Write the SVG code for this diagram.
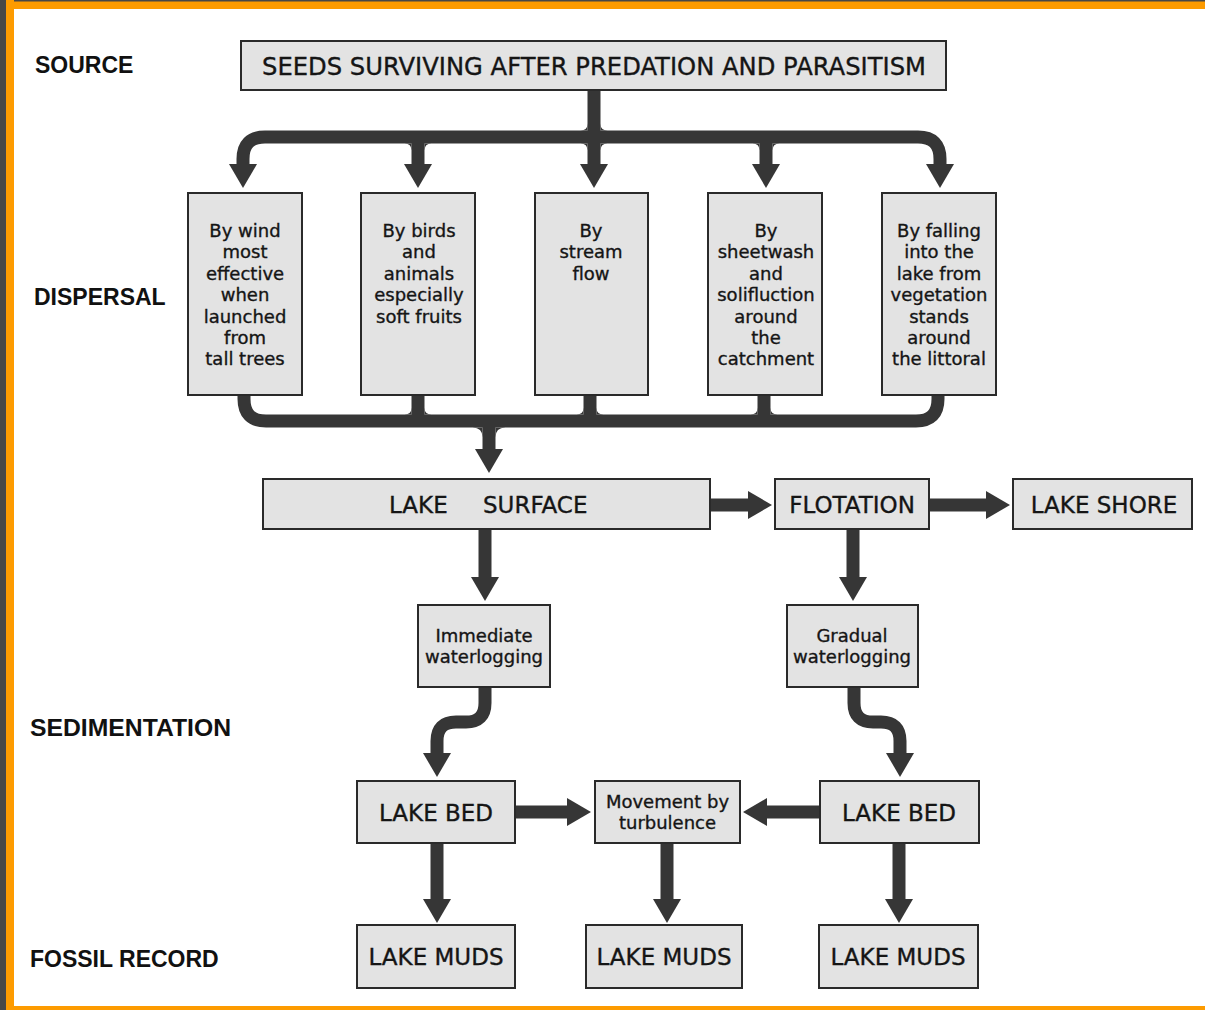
<svg xmlns="http://www.w3.org/2000/svg" width="1205" height="1010" viewBox="0 0 1205 1010">
<defs>
<style>
.box{fill:#e3e3e3;stroke:#2a2a2a;stroke-width:2}
.t{font-family:"DejaVu Sans","Liberation Sans",sans-serif;fill:#151515;stroke:#151515;stroke-width:0.35;text-anchor:middle}
.s{font-size:18px}
.b{font-size:23px}
.lab{font-family:"Liberation Sans",Arial,sans-serif;font-weight:bold;font-size:23px;fill:#111}
.c{fill:none;stroke:#363636;stroke-width:13;marker-end:url(#ah)}
.cn{fill:none;stroke:#363636;stroke-width:13}
.f{fill:#363636}
</style>
<marker id="ah" markerUnits="userSpaceOnUse" markerWidth="24" markerHeight="28" viewBox="0 0 24 28" refX="1" refY="14" orient="auto">
<path d="M0,0 L24,14 L0,28 Z" fill="#363636"/>
</marker>
</defs>
<rect width="1205" height="1010" fill="#ffffff"/>
<g id="frame">
<rect x="0" y="0" width="1205" height="9" fill="#fd9b00"/>
<rect x="0" y="0" width="1205" height="1.5" fill="#474747"/>
<rect x="0" y="1006" width="1205" height="4" fill="#fd9b00"/>
<rect x="6" y="0" width="8" height="1010" fill="#fd9b00"/>
<rect x="0" y="0" width="6" height="1010" fill="#474747"/>
</g>
<g id="stage-labels">
<text class="lab" x="35" y="73">SOURCE</text>
<text class="lab" x="34" y="305">DISPERSAL</text>
<text class="lab" x="30" y="736" textLength="201" lengthAdjust="spacingAndGlyphs">SEDIMENTATION</text>
<text class="lab" x="30" y="967" font-size="22.4">FOSSIL RECORD</text>
</g>
<g id="connectors">
<path class="c" d="M594 137 H265 Q243 137 243 159 V165"/>
<path class="c" d="M594 137 H918 Q940 137 940 159 V165"/>
<path class="c" d="M594 90 V165"/>
<path class="c" d="M418 137 V165"/>
<path class="c" d="M766 137 V165"/>
<path class="f" d="M587.5 123.5 Q587.5 130.5 580.5 130.5 L587.5 130.5 Z M600.5 123.5 Q600.5 130.5 607.5 130.5 L600.5 130.5 Z"/>
<path class="f" d="M411.5 150.5 Q411.5 143.5 404.5 143.5 L411.5 143.5 Z M424.5 150.5 Q424.5 143.5 431.5 143.5 L424.5 143.5 Z M587.5 150.5 Q587.5 143.5 580.5 143.5 L587.5 143.5 Z M600.5 150.5 Q600.5 143.5 607.5 143.5 L600.5 143.5 Z M759.5 150.5 Q759.5 143.5 752.5 143.5 L759.5 143.5 Z M772.5 150.5 Q772.5 143.5 779.5 143.5 L772.5 143.5 Z"/>
<path class="cn" d="M244 395 V399 Q244 421 266 421 H489"/>
<path class="cn" d="M938 395 V399 Q938 421 916 421 H489"/>
<path class="cn" d="M418 395 V421"/>
<path class="cn" d="M590 395 V421"/>
<path class="cn" d="M764 395 V421"/>
<path class="c" d="M489 421 V450"/>
<path class="f" d="M411.5 407.5 Q411.5 414.5 404.5 414.5 L411.5 414.5 Z M424.5 407.5 Q424.5 414.5 431.5 414.5 L424.5 414.5 Z M583.5 407.5 Q583.5 414.5 576.5 414.5 L583.5 414.5 Z M596.5 407.5 Q596.5 414.5 603.5 414.5 L596.5 414.5 Z M757.5 407.5 Q757.5 414.5 750.5 414.5 L757.5 414.5 Z M770.5 407.5 Q770.5 414.5 777.5 414.5 L770.5 414.5 Z"/>
<path class="f" d="M482.5 437.5 Q482.5 427.5 472.5 427.5 L482.5 427.5 Z M495.5 437.5 Q495.5 427.5 505.5 427.5 L495.5 427.5 Z"/>
<path class="c" d="M485 529 V578"/>
<path class="c" d="M710 505 H749"/>
<path class="c" d="M929 505 H987"/>
<path class="c" d="M853 529 V578"/>
<path class="c" d="M485 687 V703 Q485 722 466 722 H456 Q437 722 437 741 V754"/>
<path class="c" d="M854 687 V703 Q854 722 873 722 H881 Q900 722 900 741 V754"/>
<path class="c" d="M516 812 H568"/>
<path class="c" d="M820 812 H766"/>
<path class="c" d="M437 843 V900"/>
<path class="c" d="M667 843 V900"/>
<path class="c" d="M899 843 V900"/>
</g>
<g id="n-source">
<rect class="box" x="241" y="41" width="705" height="49"/>
<text class="t" x="594" y="75" font-size="24" textLength="664" lengthAdjust="spacingAndGlyphs">SEEDS SURVIVING AFTER PREDATION AND PARASITISM</text>
</g>
<g id="n-wind">
<rect class="box" x="188" y="193" width="114" height="202"/>
<text class="t s"><tspan x="245" y="237">By wind</tspan><tspan x="245" y="258.4">most</tspan><tspan x="245" y="279.8">effective</tspan><tspan x="245" y="301.2">when</tspan><tspan x="245" y="322.6">launched</tspan><tspan x="245" y="344">from</tspan><tspan x="245" y="365.4">tall trees</tspan></text>
</g>
<g id="n-birds">
<rect class="box" x="361" y="193" width="114" height="202"/>
<text class="t s"><tspan x="419" y="237">By birds</tspan><tspan x="419" y="258.4">and</tspan><tspan x="419" y="279.8">animals</tspan><tspan x="419" y="301.2">especially</tspan><tspan x="419" y="322.6">soft fruits</tspan></text>
</g>
<g id="n-stream">
<rect class="box" x="535" y="193" width="113" height="202"/>
<text class="t s"><tspan x="591" y="237">By</tspan><tspan x="591" y="258.4">stream</tspan><tspan x="591" y="279.8">flow</tspan></text>
</g>
<g id="n-sheetwash">
<rect class="box" x="708" y="193" width="114" height="202"/>
<text class="t s"><tspan x="766" y="237">By</tspan><tspan x="766" y="258.4">sheetwash</tspan><tspan x="766" y="279.8">and</tspan><tspan x="766" y="301.2">solifluction</tspan><tspan x="766" y="322.6">around</tspan><tspan x="766" y="344">the</tspan><tspan x="766" y="365.4">catchment</tspan></text>
</g>
<g id="n-falling">
<rect class="box" x="882" y="193" width="114" height="202"/>
<text class="t s"><tspan x="939" y="237">By falling</tspan><tspan x="939" y="258.4">into the</tspan><tspan x="939" y="279.8">lake from</tspan><tspan x="939" y="301.2">vegetation</tspan><tspan x="939" y="322.6">stands</tspan><tspan x="939" y="344">around</tspan><tspan x="939" y="365.4">the littoral</tspan></text>
</g>
<g id="n-lake-surface">
<rect class="box" x="263" y="479" width="447" height="50"/>
<text class="t b" style="text-anchor:start"><tspan x="389" y="513">LAKE </tspan><tspan x="483" y="513">SURFACE</tspan></text>
</g>
<g id="n-flotation">
<rect class="box" x="775" y="479" width="154" height="50"/>
<text class="t b" x="852" y="513">FLOTATION</text>
</g>
<g id="n-lake-shore">
<rect class="box" x="1013" y="479" width="179" height="50"/>
<text class="t b" x="1104" y="513">LAKE SHORE</text>
</g>
<g id="n-immediate">
<rect class="box" x="418" y="605" width="132" height="82"/>
<text class="t s"><tspan x="484" y="642">Immediate</tspan><tspan x="484" y="663">waterlogging</tspan></text>
</g>
<g id="n-gradual">
<rect class="box" x="787" y="605" width="131" height="82"/>
<text class="t s"><tspan x="852" y="642">Gradual</tspan><tspan x="852" y="663">waterlogging</tspan></text>
</g>
<g id="n-lake-bed-1">
<rect class="box" x="357" y="781" width="158" height="62"/>
<text class="t b" x="436" y="821">LAKE BED</text>
</g>
<g id="n-movement">
<rect class="box" x="595" y="781" width="145" height="62"/>
<text class="t s"><tspan x="667.5" y="808">Movement by</tspan><tspan x="667.5" y="829">turbulence</tspan></text>
</g>
<g id="n-lake-bed-2">
<rect class="box" x="820" y="781" width="159" height="62"/>
<text class="t b" x="899" y="821">LAKE BED</text>
</g>
<g id="n-muds-1">
<rect class="box" x="357" y="925" width="158" height="63"/>
<text class="t b" x="436" y="965">LAKE MUDS</text>
</g>
<g id="n-muds-2">
<rect class="box" x="586" y="925" width="156" height="63"/>
<text class="t b" x="664" y="965">LAKE MUDS</text>
</g>
<g id="n-muds-3">
<rect class="box" x="819" y="925" width="159" height="63"/>
<text class="t b" x="898" y="965">LAKE MUDS</text>
</g>
</svg>
